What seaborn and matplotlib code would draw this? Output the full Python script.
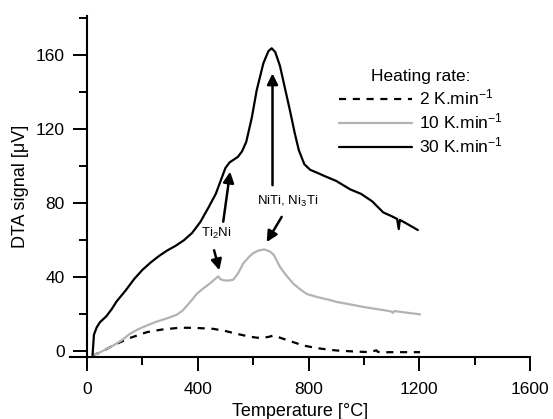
"""DTA signal vs temperature for three heating rates."""

import matplotlib
matplotlib.use("Agg")
import matplotlib.pyplot as plt
import pandas as pd
import seaborn as sns
from matplotlib.ticker import MultipleLocator

# 2 K/min (dashed)
temp_2 = [20, 50, 83, 107, 150, 216, 270, 336, 390, 456, 500, 541, 580, 613,
          640, 660, 673, 690, 709, 745, 781, 830, 870, 902, 960, 1022, 1045,
          1050, 1060, 1100, 1150, 1203]
dta_2 = [-2, -0.5, 2.3, 4.1, 7, 10.4, 11.8, 12.8, 12.7, 12.2, 11, 9.5, 8.2, 7.4,
         7.4, 8, 8.6, 7.8, 6.8, 5, 3.2, 1.8, 1.0, 0.5, 0, -0.4, 0.6,
         -0.2, -0.5, -0.4, -0.4, -0.4]

# 10 K/min (grey)
temp_10 = [20, 40, 60, 95, 125, 155, 185, 216, 250, 288, 324, 345, 360, 380,
           396, 420, 444, 462, 474, 482, 492, 510, 528, 545, 564, 585, 600, 620,
           640, 660, 675, 697, 720, 745, 770, 794, 830, 870, 902, 950, 998,
           1040, 1083, 1100, 1105, 1110, 1150, 1203]
dta_10 = [-2, -1, 0.5, 3.2, 6, 9.5, 12, 14, 16, 17.8, 19.8, 22, 24.5, 28,
          31, 34, 36.7, 39, 40.5, 39, 38.4, 38.2, 38.7, 42, 47.4, 51, 53, 54.5,
          55, 54, 52, 45.6, 41, 36.6, 33.5, 31, 29.4, 28, 26.7, 25.4, 24,
          23, 22, 21.5, 20.8, 21.8, 21, 20]

# 30 K/min (black)
temp_30 = [20, 25, 35, 47, 70, 90, 107, 140, 170, 200, 230, 260, 290, 320, 350,
           380, 410, 440, 465, 485, 500, 515, 530, 545, 560, 575, 595, 613, 637,
           655, 667, 680, 697, 715, 733, 750, 765, 785, 806, 830, 860, 900, 950,
           990, 1030, 1070, 1100, 1120, 1126, 1130, 1136, 1160, 1195]
dta_30 = [-2, 9, 13, 15.8, 19, 23, 27, 33, 39, 44, 48, 51.5, 54.5, 57, 60,
          64, 70, 78, 85, 93, 99, 102, 103.5, 105, 108, 113, 126, 141, 155.5,
          162, 163.6, 161.5, 154, 142, 130, 118, 108.6, 101, 98, 96.5, 94.5, 92, 87.5,
          85, 81, 75, 73, 71.5, 66, 71, 70.5, 68.5, 65.5]

rate_labels = ["2 K.min$^{-1}$", "10 K.min$^{-1}$", "30 K.min$^{-1}$"]

sns.set_style("ticks", {"text.color": "black", "axes.labelcolor": "black",
                        "xtick.color": "black", "ytick.color": "black",
                        "axes.edgecolor": "black"})
plt.rcParams["font.family"] = ["Liberation Sans", "DejaVu Sans"]
plt.rcParams["mathtext.fontset"] = "custom"
plt.rcParams["mathtext.rm"] = "Liberation Sans"
plt.rcParams["mathtext.it"] = "Liberation Sans"

fig = plt.figure(figsize=(5.53, 4.19), dpi=100)
ax = fig.add_axes([0.1266, 0.148, 0.8318, 0.8138])

series = [
    (temp_2, dta_2, "black", (0, (3.2, 3.0))),
    (temp_10, dta_10, "#b3b3b3", "-"),
    (temp_30, dta_30, "black", "-"),
]
for (t, d, col, ls), lab in zip(series, rate_labels):
    df = pd.DataFrame({"temp": t, "dta": d})
    sns.lineplot(data=df, x="temp", y="dta", ax=ax, color=col, linestyle=ls,
                 lw=1.6, label=lab, sort=False, estimator=None)

ax.set_xlim(-61.4, 1600)
ax.set_ylim(-3, 181)
sns.despine(ax=ax)
ax.spines["left"].set_position(("data", 0))
for sp in ("left", "bottom"):
    ax.spines[sp].set_linewidth(1.5)

ax.xaxis.set_major_locator(MultipleLocator(400))
ax.xaxis.set_minor_locator(MultipleLocator(200))
ax.yaxis.set_major_locator(MultipleLocator(40))
ax.yaxis.set_minor_locator(MultipleLocator(20))
ax.tick_params(which="major", length=10, width=1.4, labelsize=12.5)
ax.tick_params(axis="x", which="major", pad=8)
ax.tick_params(axis="y", which="major", pad=6)
ax.tick_params(which="minor", length=6, width=1.4)

ax.set_xlabel("Temperature [°C]", fontsize=13, labelpad=4.5)
ax.set_ylabel("DTA signal [μV]", fontsize=13, labelpad=5)

leg = ax.legend(title="Heating rate:", frameon=False, fontsize=12.5,
                title_fontsize=12.5, handlelength=4.2, handletextpad=0.4,
                labelspacing=0.235, borderpad=0, loc="upper left",
                bbox_to_anchor=(330 / 553, 1 - 60 / 419),
                bbox_transform=fig.transFigure)

arrow = dict(arrowstyle="-|>", lw=1.8, color="black", mutation_scale=16,
             shrinkA=0, shrinkB=0)
ax.annotate("", xy=(517, 97), xytext=(492, 70), arrowprops=arrow)
ax.annotate("", xy=(478, 43.8), xytext=(459, 54.6), arrowprops=arrow)
ax.annotate("", xy=(670, 150), xytext=(670, 89.7), arrowprops=arrow)
ax.annotate("", xy=(649, 59), xytext=(703, 72.6), arrowprops=arrow)
ax.text(468, 63.6, "Ti$_2$Ni", fontsize=9.5, ha="center", va="center")
ax.text(726, 80.7, "NiTi, Ni$_3$Ti", fontsize=9.5, ha="center", va="center")

fig.savefig("out.png", dpi=100)
